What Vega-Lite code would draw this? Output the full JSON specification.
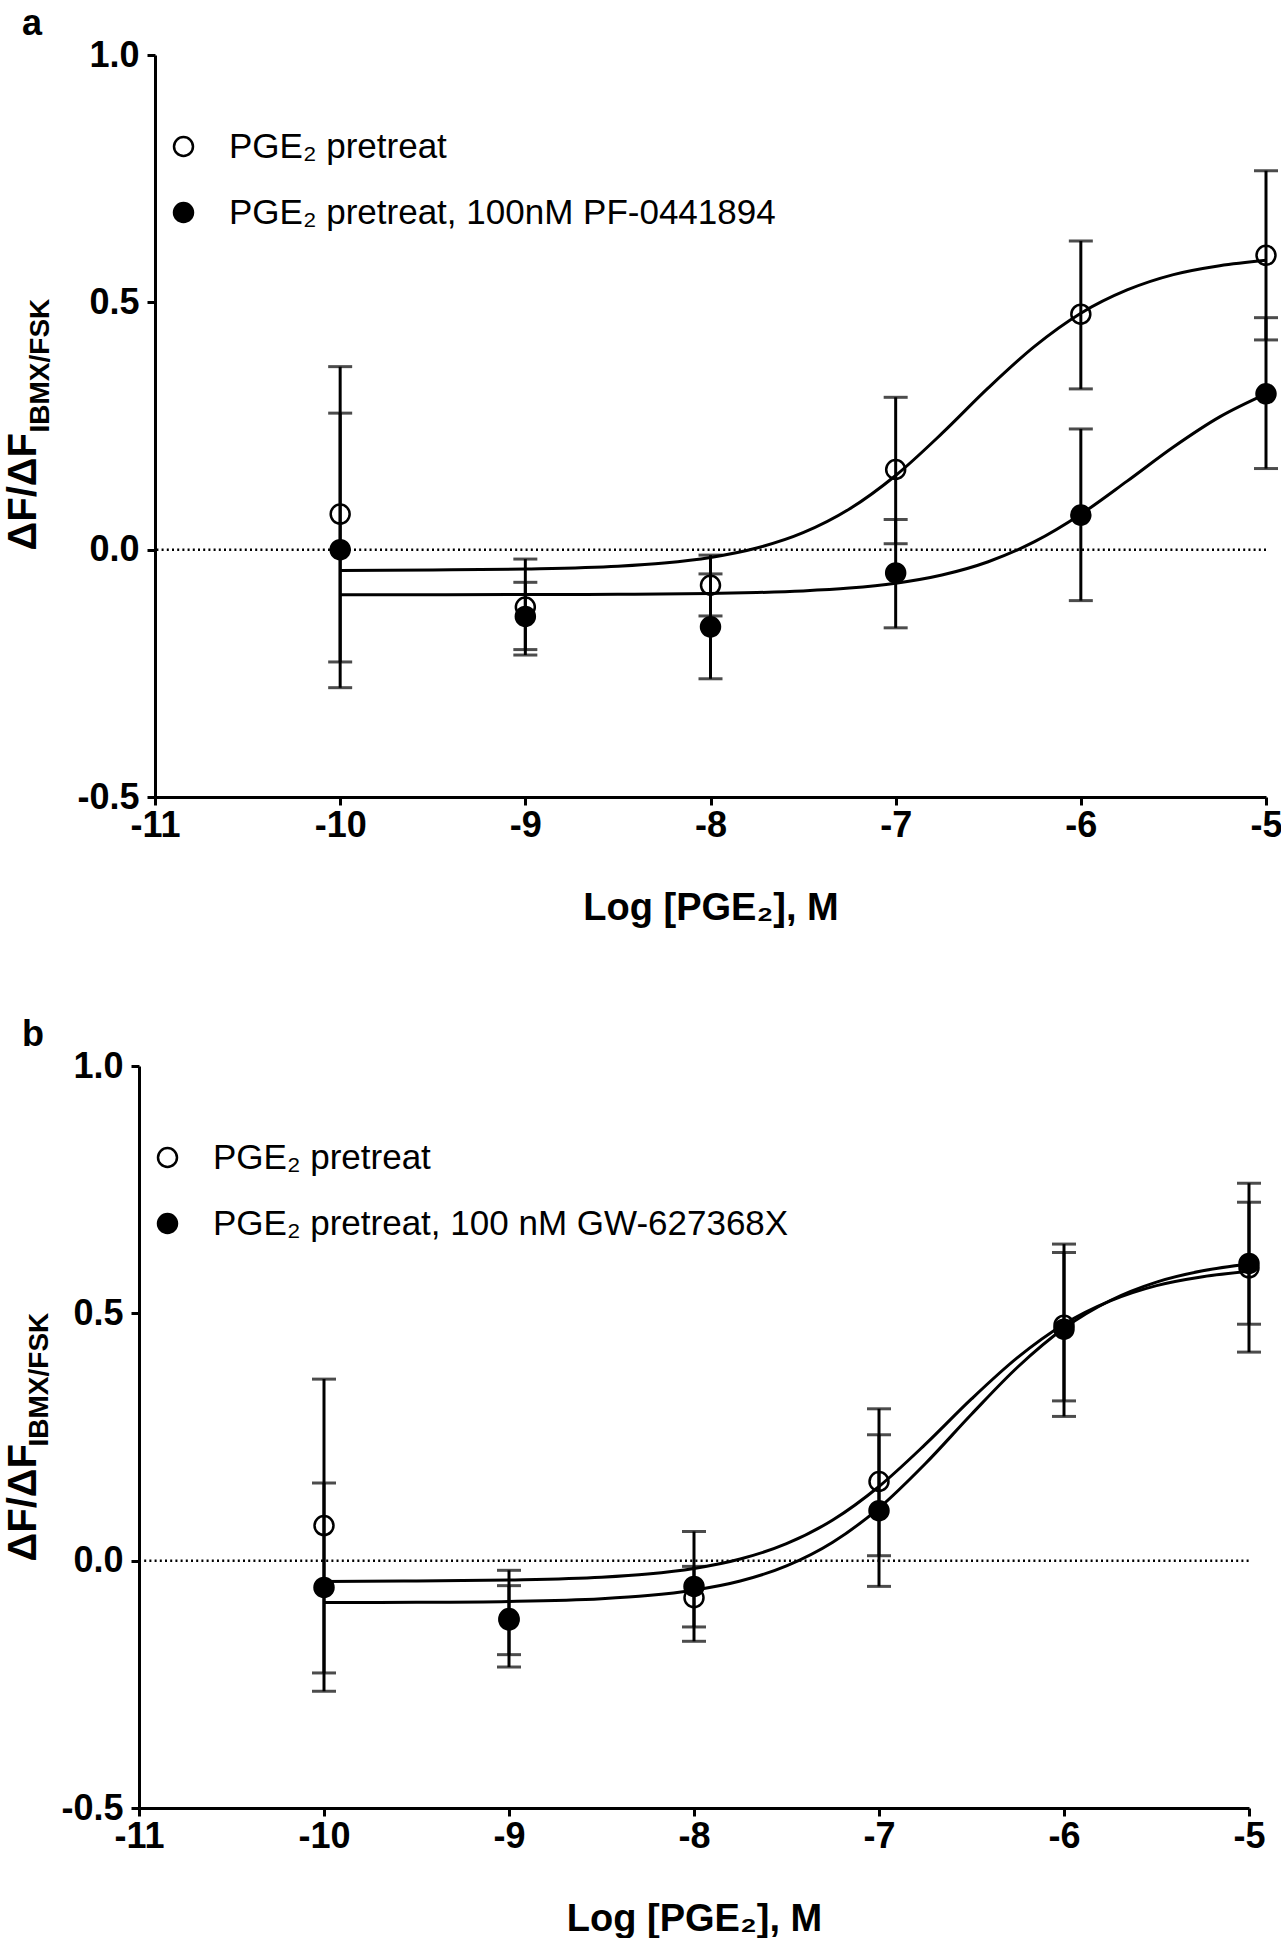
{
  "$schema": "https://vega.github.io/schema/vega-lite/v6.json",
  "background": "white",
  "padding": {"left": 3, "top": 6, "right": 10, "bottom": 0},
  "config": {
    "view": {"stroke": null},
    "font": "Liberation Sans",
    "axis": {"grid": false, "domainColor": "black", "domainWidth": 3, "tickColor": "black", "tickWidth": 3, "tickSize": 8,
      "labelFont": "Liberation Sans", "labelFontSize": 36, "labelFontWeight": "bold", "labelColor": "black",
      "titleFont": "Liberation Sans", "titleFontSize": 38, "titleFontWeight": "bold", "titleColor": "black",
      "labelFlush": false, "labelOverlap": false, "labelBound": false},
    "axisX": {"labelPadding": 3, "titlePadding": 46},
    "axisY": {"labelPadding": 8},
    "title": {"anchor": "start", "frame": "bounds", "fontSize": 36, "fontWeight": "bold", "font": "Liberation Sans", "color": "black", "baseline": "alphabetic", "offset": -6, "dx": 19},
    "legend": {"title": null, "orient": "none", "symbolStrokeColor": "black", "symbolStrokeWidth": 2.5, "symbolSize": 360, "symbolType": "circle",
      "labelFont": "Liberation Sans", "labelFontSize": 35, "labelColor": "black", "rowPadding": 30, "labelOffset": 28, "padding": 0, "labelLimit": 0}
  },
  "datasets": {
    "a_pts": [
      {"x": -10, "y": 0.072, "lo": -0.227, "hi": 0.370, "s": "PGE₂ pretreat"},
      {"x": -9, "y": -0.116, "lo": -0.213, "hi": -0.019, "s": "PGE₂ pretreat"},
      {"x": -8, "y": -0.072, "lo": -0.134, "hi": -0.011, "s": "PGE₂ pretreat"},
      {"x": -7, "y": 0.162, "lo": 0.012, "hi": 0.308, "s": "PGE₂ pretreat"},
      {"x": -6, "y": 0.476, "lo": 0.325, "hi": 0.624, "s": "PGE₂ pretreat"},
      {"x": -5, "y": 0.595, "lo": 0.424, "hi": 0.766, "s": "PGE₂ pretreat"},
      {"x": -10, "y": 0.000, "lo": -0.279, "hi": 0.276, "s": "PGE₂ pretreat, 100nM PF-0441894"},
      {"x": -9, "y": -0.135, "lo": -0.202, "hi": -0.066, "s": "PGE₂ pretreat, 100nM PF-0441894"},
      {"x": -8, "y": -0.156, "lo": -0.261, "hi": -0.049, "s": "PGE₂ pretreat, 100nM PF-0441894"},
      {"x": -7, "y": -0.047, "lo": -0.158, "hi": 0.061, "s": "PGE₂ pretreat, 100nM PF-0441894"},
      {"x": -6, "y": 0.070, "lo": -0.103, "hi": 0.244, "s": "PGE₂ pretreat, 100nM PF-0441894"},
      {"x": -5, "y": 0.315, "lo": 0.164, "hi": 0.469, "s": "PGE₂ pretreat, 100nM PF-0441894"}
    ],
    "a_curve": [
      {"x": -10, "v": -0.042, "s": "open"}, {"x": -9.5, "v": -0.041, "s": "open"}, {"x": -9, "v": -0.039, "s": "open"},
      {"x": -8.5, "v": -0.0335, "s": "open"}, {"x": -8.25, "v": -0.027, "s": "open"}, {"x": -8, "v": -0.0157, "s": "open"},
      {"x": -7.75, "v": 0.0033, "s": "open"}, {"x": -7.5, "v": 0.0343, "s": "open"}, {"x": -7.25, "v": 0.0822, "s": "open"},
      {"x": -7, "v": 0.150, "s": "open"}, {"x": -6.75, "v": 0.235, "s": "open"}, {"x": -6.5, "v": 0.327, "s": "open"},
      {"x": -6.25, "v": 0.411, "s": "open"}, {"x": -6, "v": 0.478, "s": "open"}, {"x": -5.75, "v": 0.525, "s": "open"},
      {"x": -5.5, "v": 0.556, "s": "open"}, {"x": -5.25, "v": 0.574, "s": "open"}, {"x": -5, "v": 0.585, "s": "open"},
      {"x": -10, "v": -0.091, "s": "filled"}, {"x": -9.5, "v": -0.0909, "s": "filled"}, {"x": -9, "v": -0.0908, "s": "filled"},
      {"x": -8.5, "v": -0.0902, "s": "filled"}, {"x": -8, "v": -0.0886, "s": "filled"}, {"x": -7.75, "v": -0.0867, "s": "filled"},
      {"x": -7.5, "v": -0.0834, "s": "filled"}, {"x": -7.25, "v": -0.0777, "s": "filled"}, {"x": -7, "v": -0.0678, "s": "filled"},
      {"x": -6.75, "v": -0.0512, "s": "filled"}, {"x": -6.5, "v": -0.0244, "s": "filled"}, {"x": -6.25, "v": 0.0161, "s": "filled"},
      {"x": -6, "v": 0.0716, "s": "filled"}, {"x": -5.75, "v": 0.1385, "s": "filled"}, {"x": -5.5, "v": 0.2076, "s": "filled"},
      {"x": -5.25, "v": 0.2685, "s": "filled"}, {"x": -5, "v": 0.315, "s": "filled"}
    ],
    "b_pts": [
      {"x": -10, "y": 0.071, "lo": -0.227, "hi": 0.367, "s": "PGE₂ pretreat"},
      {"x": -9, "y": -0.117, "lo": -0.215, "hi": -0.0195, "s": "PGE₂ pretreat"},
      {"x": -8, "y": -0.075, "lo": -0.134, "hi": -0.0115, "s": "PGE₂ pretreat"},
      {"x": -7, "y": 0.160, "lo": 0.010, "hi": 0.307, "s": "PGE₂ pretreat"},
      {"x": -6, "y": 0.476, "lo": 0.323, "hi": 0.623, "s": "PGE₂ pretreat"},
      {"x": -5, "y": 0.592, "lo": 0.4216, "hi": 0.763, "s": "PGE₂ pretreat"},
      {"x": -10, "y": -0.054, "lo": -0.264, "hi": 0.157, "s": "PGE₂ pretreat, 100 nM GW-627368X"},
      {"x": -9, "y": -0.120, "lo": -0.190, "hi": -0.0505, "s": "PGE₂ pretreat, 100 nM GW-627368X"},
      {"x": -8, "y": -0.052, "lo": -0.163, "hi": 0.059, "s": "PGE₂ pretreat, 100 nM GW-627368X"},
      {"x": -7, "y": 0.101, "lo": -0.052, "hi": 0.2545, "s": "PGE₂ pretreat, 100 nM GW-627368X"},
      {"x": -6, "y": 0.468, "lo": 0.2916, "hi": 0.640, "s": "PGE₂ pretreat, 100 nM GW-627368X"},
      {"x": -5, "y": 0.601, "lo": 0.478, "hi": 0.7246, "s": "PGE₂ pretreat, 100 nM GW-627368X"}
    ],
    "b_curve": [
      {"x": -10, "v": -0.042, "s": "open"}, {"x": -9.5, "v": -0.041, "s": "open"}, {"x": -9, "v": -0.039, "s": "open"},
      {"x": -8.5, "v": -0.0335, "s": "open"}, {"x": -8.25, "v": -0.027, "s": "open"}, {"x": -8, "v": -0.0157, "s": "open"},
      {"x": -7.75, "v": 0.0033, "s": "open"}, {"x": -7.5, "v": 0.0343, "s": "open"}, {"x": -7.25, "v": 0.0822, "s": "open"},
      {"x": -7, "v": 0.150, "s": "open"}, {"x": -6.75, "v": 0.235, "s": "open"}, {"x": -6.5, "v": 0.327, "s": "open"},
      {"x": -6.25, "v": 0.411, "s": "open"}, {"x": -6, "v": 0.478, "s": "open"}, {"x": -5.75, "v": 0.525, "s": "open"},
      {"x": -5.5, "v": 0.556, "s": "open"}, {"x": -5.25, "v": 0.574, "s": "open"}, {"x": -5, "v": 0.585, "s": "open"},
      {"x": -10, "v": -0.0847, "s": "filled"}, {"x": -9.5, "v": -0.0842, "s": "filled"}, {"x": -9, "v": -0.0824, "s": "filled"},
      {"x": -8.5, "v": -0.0768, "s": "filled"}, {"x": -8.25, "v": -0.0705, "s": "filled"}, {"x": -8, "v": -0.0596, "s": "filled"},
      {"x": -7.75, "v": -0.0412, "s": "filled"}, {"x": -7.5, "v": -0.0106, "s": "filled"}, {"x": -7.25, "v": 0.0372, "s": "filled"},
      {"x": -7, "v": 0.1064, "s": "filled"}, {"x": -6.75, "v": 0.1959, "s": "filled"}, {"x": -6.5, "v": 0.296, "s": "filled"},
      {"x": -6.25, "v": 0.3915, "s": "filled"}, {"x": -6, "v": 0.4697, "s": "filled"}, {"x": -5.75, "v": 0.526, "s": "filled"},
      {"x": -5.5, "v": 0.5632, "s": "filled"}, {"x": -5.25, "v": 0.586, "s": "filled"}, {"x": -5, "v": 0.5997, "s": "filled"}
    ],
    "zero": [{"y0": 0}]
  },
  "resolve": {"scale": {"x": "independent", "y": "independent", "fill": "independent"}, "legend": {"fill": "independent"}},
  "spacing": 90,
  "vconcat": [
    {
      "width": 1111, "height": 742,
      "title": {"text": "a"},
      "resolve": {"axis": {"y": "independent"}},
      "layer": [
        {"data": {"name": "zero"}, "mark": {"type": "rule", "strokeDash": [2, 3.2], "strokeWidth": 2.5, "color": "black"},
         "encoding": {"y": {"field": "y0", "type": "quantitative", "scale": {"domain": [-0.5, 1], "nice": false, "zero": false}, "axis": null}}},
        {"data": {"name": "a_curve"}, "mark": {"type": "line", "color": "black", "strokeWidth": 3, "interpolate": "monotone"},
         "encoding": {
           "x": {"field": "x", "type": "quantitative", "scale": {"domain": [-11, -5], "nice": false, "zero": false}, "title": "Log [PGE₂], M",
                 "axis": {"values": [-11, -10, -9, -8, -7, -6, -5], "labelExpr": "'' + datum.value"}},
           "y": {"field": "v", "type": "quantitative", "scale": {"domain": [-0.5, 1], "nice": false, "zero": false},
                 "axis": {"orient": "left", "labels": false, "ticks": false, "domain": false, "title": "IBMX/FSK", "titleX": -107, "titleY": 377, "titleAngle": -90, "titleAlign": "left", "titleBaseline": "alphabetic", "titleFontSize": 28}},
           "detail": {"field": "s", "type": "nominal"}}},
        {"data": {"name": "a_pts"}, "mark": {"type": "errorbar", "color": "black", "ticks": {"size": 24, "thickness": 3, "color": "black"}, "rule": {"strokeWidth": 3, "color": "black"}},
         "encoding": {
           "x": {"field": "x", "type": "quantitative", "scale": {"domain": [-11, -5], "nice": false, "zero": false}, "title": "Log [PGE₂], M",
                 "axis": {"values": [-11, -10, -9, -8, -7, -6, -5], "labelExpr": "'' + datum.value"}},
           "y": {"field": "lo", "type": "quantitative", "scale": {"domain": [-0.5, 1], "nice": false, "zero": false}, "axis": null},
           "y2": {"field": "hi"}}},
        {"data": {"name": "a_pts"}, "mark": {"type": "point", "shape": "circle", "filled": true, "stroke": "black", "strokeWidth": 2.5, "size": 360, "opacity": 1},
         "encoding": {
           "x": {"field": "x", "type": "quantitative", "scale": {"domain": [-11, -5], "nice": false, "zero": false}, "title": "Log [PGE₂], M",
                 "axis": {"values": [-11, -10, -9, -8, -7, -6, -5], "labelExpr": "'' + datum.value"}},
           "y": {"field": "y", "type": "quantitative", "scale": {"domain": [-0.5, 1], "nice": false, "zero": false},
                 "axis": {"orient": "left", "values": [-0.5, 0, 0.5, 1], "labelExpr": "replace(format(datum.value, '.1f'), '−', '-')",
                          "title": "ΔF/ΔF", "titleX": -120, "titleY": 495, "titleAngle": -90, "titleAlign": "left", "titleBaseline": "alphabetic", "titleFontSize": 40}},
           "fill": {"field": "s", "type": "nominal",
                    "scale": {"domain": ["PGE₂ pretreat", "PGE₂ pretreat, 100nM PF-0441894"], "range": ["transparent", "black"]},
                    "legend": {"legendX": 11, "legendY": 74}}}}
      ]
    },
    {
      "width": 1110, "height": 742,
      "title": {"text": "b"},
      "resolve": {"axis": {"y": "independent"}},
      "layer": [
        {"data": {"name": "zero"}, "mark": {"type": "rule", "strokeDash": [2, 3.2], "strokeWidth": 2.5, "color": "black"},
         "encoding": {
           "x": {"datum": -11, "type": "quantitative", "scale": {"domain": [-11, -5], "nice": false, "zero": false, "range": [-16, 1094]}, "title": "Log [PGE₂], M",
                 "axis": {"values": [-11, -10, -9, -8, -7, -6, -5], "labelExpr": "'' + datum.value"}},
           "x2": {"datum": -5},
           "y": {"field": "y0", "type": "quantitative", "scale": {"domain": [-0.5, 1], "nice": false, "zero": false}, "axis": null}}},
        {"data": {"name": "b_curve"}, "mark": {"type": "line", "color": "black", "strokeWidth": 3, "interpolate": "monotone"},
         "encoding": {
           "x": {"field": "x", "type": "quantitative", "scale": {"domain": [-11, -5], "nice": false, "zero": false, "range": [-16, 1094]}, "title": "Log [PGE₂], M",
                 "axis": {"values": [-11, -10, -9, -8, -7, -6, -5], "labelExpr": "'' + datum.value"}},
           "y": {"field": "v", "type": "quantitative", "scale": {"domain": [-0.5, 1], "nice": false, "zero": false},
                 "axis": {"orient": "left", "offset": 16, "labels": false, "ticks": false, "domain": false, "title": "IBMX/FSK", "titleX": -92, "titleY": 380, "titleAngle": -90, "titleAlign": "left", "titleBaseline": "alphabetic", "titleFontSize": 28}},
           "detail": {"field": "s", "type": "nominal"}}},
        {"data": {"name": "b_pts"}, "mark": {"type": "errorbar", "color": "black", "ticks": {"size": 24, "thickness": 3, "color": "black"}, "rule": {"strokeWidth": 3, "color": "black"}},
         "encoding": {
           "x": {"field": "x", "type": "quantitative", "scale": {"domain": [-11, -5], "nice": false, "zero": false, "range": [-16, 1094]}, "title": "Log [PGE₂], M",
                 "axis": {"values": [-11, -10, -9, -8, -7, -6, -5], "labelExpr": "'' + datum.value"}},
           "y": {"field": "lo", "type": "quantitative", "scale": {"domain": [-0.5, 1], "nice": false, "zero": false}, "axis": null},
           "y2": {"field": "hi"}}},
        {"data": {"name": "b_pts"}, "mark": {"type": "point", "shape": "circle", "filled": true, "stroke": "black", "strokeWidth": 2.5, "size": 360, "opacity": 1},
         "encoding": {
           "x": {"field": "x", "type": "quantitative", "scale": {"domain": [-11, -5], "nice": false, "zero": false, "range": [-16, 1094]}, "title": "Log [PGE₂], M",
                 "axis": {"values": [-11, -10, -9, -8, -7, -6, -5], "labelExpr": "'' + datum.value"}},
           "y": {"field": "y", "type": "quantitative", "scale": {"domain": [-0.5, 1], "nice": false, "zero": false},
                 "axis": {"orient": "left", "offset": 16, "values": [-0.5, 0, 0.5, 1], "labelExpr": "replace(format(datum.value, '.1f'), '−', '-')",
                          "title": "ΔF/ΔF", "titleX": -104, "titleY": 495, "titleAngle": -90, "titleAlign": "left", "titleBaseline": "alphabetic", "titleFontSize": 40}},
           "fill": {"field": "s", "type": "nominal",
                    "scale": {"domain": ["PGE₂ pretreat", "PGE₂ pretreat, 100 nM GW-627368X"], "range": ["transparent", "black"]},
                    "legend": {"legendX": -5, "legendY": 74}}}}
      ]
    }
  ]
}
